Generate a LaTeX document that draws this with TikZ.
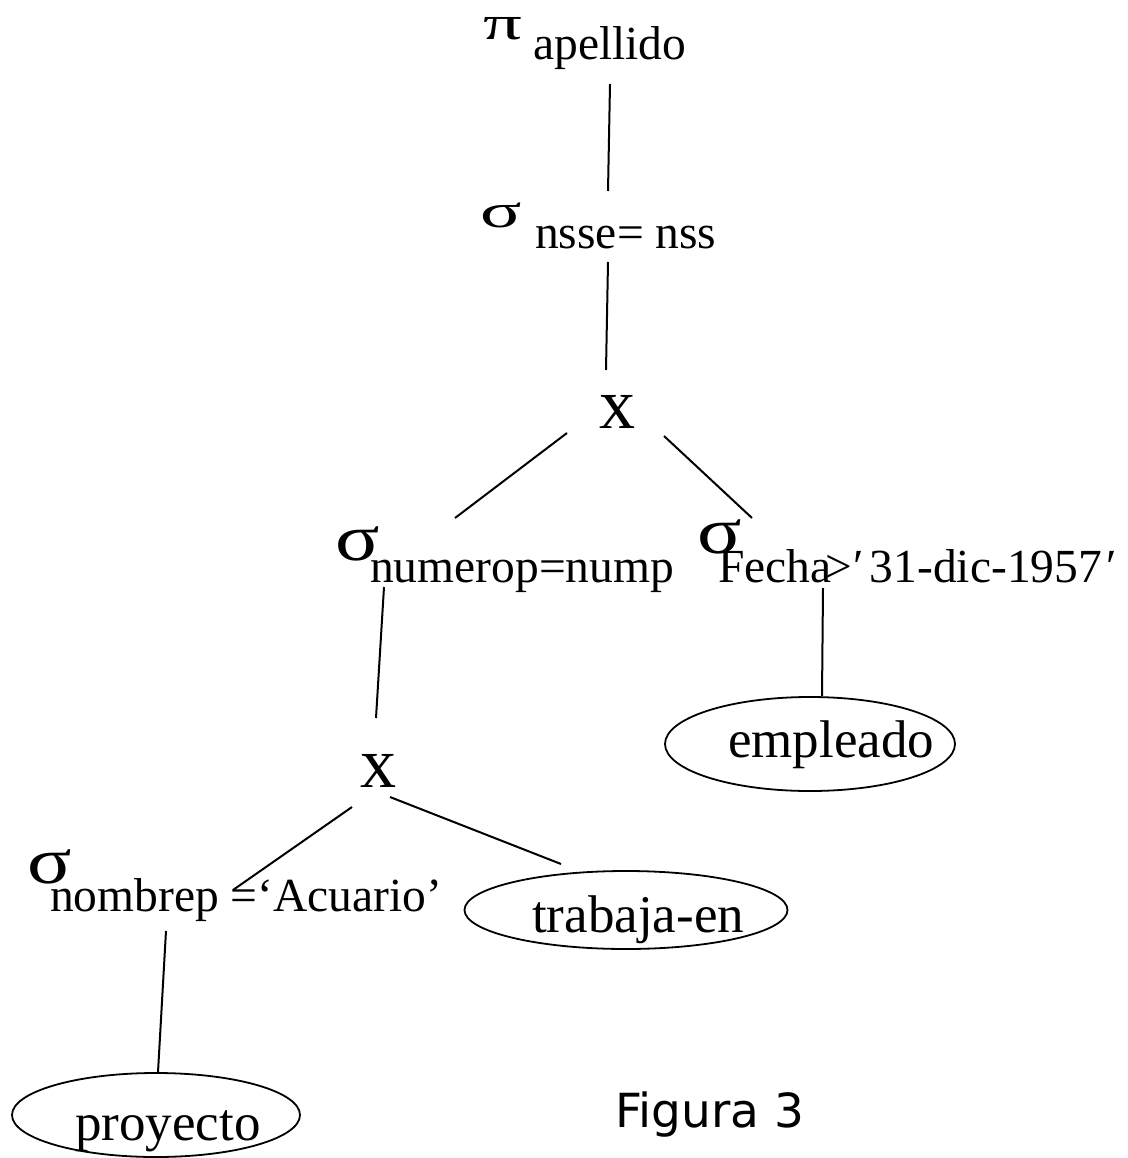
\documentclass[tikz,border=0pt]{standalone}
\usepackage{fontspec}
\setmainfont{Liberation Serif}
\newfontfamily\captionfont{DejaVu Sans}
\usetikzlibrary{shapes.geometric,calc}
\begin{document}
\begin{tikzpicture}[x=1pt,y=-1pt,
  lbl/.style={inner sep=0pt, anchor=base west, font=\fontsize{47.5}{47.5}\selectfont},
  rlbl/.style={inner sep=0pt, anchor=base west, font=\fontsize{53}{53}\selectfont},
  smallop/.style={inner sep=0pt, anchor=base west, font=\fontsize{48}{48}\selectfont},
  bigop/.style={inner sep=0pt, anchor=base west, font=\fontsize{66}{66}\selectfont},
  prod/.style={inner sep=0pt, anchor=base west, font=\fontsize{72}{72}\selectfont},
  rel/.style={draw, ellipse, line width=1.8pt, inner sep=0pt},
  link/.style={line width=2pt}]
\useasboundingbox (0,0) rectangle (1127,1158);

% projection
\node[smallop] (pi) at (483,40) {\scalebox{1.6}[1]{π}};
\node[lbl] (pi-c) at (533,60) {apellido};

% selection nsse = nss
\node[smallop] (s1) at (480,228) {\scalebox{1.6}[1]{σ}};
\node[lbl] (s1-c) at (535,248) {nsse= nss};

% upper cartesian product
\node[prod] (x1) at (599,428) {x};

% selection numerop = nump
\node[bigop] (s2) at (335,560) {\scalebox{1.25}[1]{σ}};
\node[lbl] (s2-c) at (370,582) {numerop=nump};

% selection on Fecha
\node[bigop] (s3) at (697,553) {\scalebox{1.25}[1]{σ}};
\node[lbl] (s3-c) at (718,582) {Fecha\kern-6pt>\kern1pt′\kern6pt31-dic-1957\kern5pt′};

% lower cartesian product
\node[prod] (x2) at (360,787) {x};

% selection nombrep = 'Acuario'
\node[bigop] (s4) at (27,883) {\scalebox{1.25}[1]{σ}};
\node[lbl] (s4-c) at (50,911) {nombrep =‘Acuario’};

% base relations
\node[rel, minimum width=288pt, minimum height=84pt] (proyecto) at (156,1115) {};
\node[rlbl] (proyecto-t) at (75,1140) {proyecto};
\node[rel, minimum width=323pt, minimum height=78pt] (trabaja) at (626,910) {};
\node[rlbl] (trabaja-t) at (532,932) {trabaja-en};
\node[rel, minimum width=290pt, minimum height=94pt] (empleado) at (810,744) {};
\node[rlbl] (empleado-t) at (728,757) {empleado};

% caption
\node[inner sep=0pt, anchor=base west, font=\captionfont\fontsize{47}{47}\selectfont] (fig) at (615,1127) {Figura 3};

% connector end points
\coordinate (pi-dn) at (610,84);
\coordinate (s1-up) at (608,191);
\coordinate (s1-dn) at (608,262);
\coordinate (x1-up) at (606,370);
\coordinate (x1-l) at (567,433);
\coordinate (x1-r) at (664,436);
\coordinate (s2-up) at (455,518);
\coordinate (s3-up) at (752,518);
\coordinate (s2-dn) at (384,587);
\coordinate (x2-up) at (376,718);
\coordinate (x2-l) at (352,807);
\coordinate (x2-r) at (390,797);
\coordinate (s4-up) at (233,890);
\coordinate (tr-up) at (561,864);
\coordinate (s4-dn) at (166,931);
\coordinate (s3-dn) at (823,588);

% tree edges
\draw[link] (pi-dn) -- (s1-up);
\draw[link] (s1-dn) -- (x1-up);
\draw[link] (x1-l) -- (s2-up);
\draw[link] (x1-r) -- (s3-up);
\draw[link] (s2-dn) -- (x2-up);
\draw[link] (x2-l) -- (s4-up);
\draw[link] (x2-r) -- (tr-up);
\draw[link] (s4-dn) -- ($(proyecto.north)+(2,0)$);
\draw[link] (s3-dn) -- ($(empleado.north)+(12,0)$);
\end{tikzpicture}
\end{document}
